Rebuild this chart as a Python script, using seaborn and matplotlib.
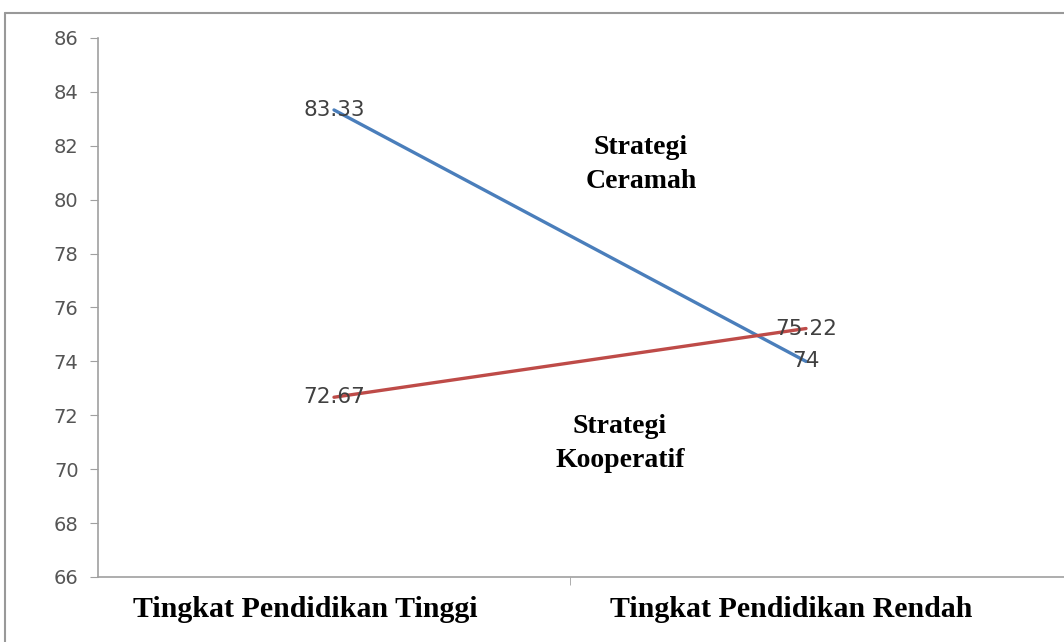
import numpy as np
import pandas as pd
import seaborn as sns
import matplotlib.pyplot as plt
import matplotlib.transforms as mtransforms
from matplotlib.lines import Line2D

# data
categories = ['Tingkat Pendidikan Tinggi', 'Tingkat Pendidikan Rendah']
ceramah = [83.33, 74]
kooperatif = [72.67, 75.22]
ceramah_labels = ['83.33', '74']
kooperatif_labels = ['72.67', '75.22']
y_ticks = [66, 68, 70, 72, 74, 76, 78, 80, 82, 84, 86]

df = pd.DataFrame({
    'pos': list(range(len(categories))) * 2,
    'nilai': ceramah + kooperatif,
    'strategi': ['Ceramah'] * 2 + ['Kooperatif'] * 2,
})

sns.set_style('white')
plt.rcParams['font.family'] = ['DejaVu Sans']

fig = plt.figure(figsize=(10.64, 6.42), dpi=100)
ax = fig.add_axes([98 / 1064, 65 / 642, 1 - 98 / 1064, 539 / 642])

sns.lineplot(data=df, x='pos', y='nilai', hue='strategi',
             palette={'Ceramah': '#4A7EBB', 'Kooperatif': '#BE4B48'},
             linewidth=2.4, legend=False, ax=ax)

# data labels
for i, (v, t) in enumerate(zip(ceramah, ceramah_labels)):
    ax.text(i, v, t, ha='center', va='center', fontsize=15.5, color='#404040')
for i, (v, t) in enumerate(zip(kooperatif, kooperatif_labels)):
    ax.text(i, v, t, ha='center', va='center', fontsize=15.5, color='#404040')

serif = ['Liberation Serif', 'DejaVu Serif']
ax.text(0.65, 81.3, 'Strategi\nCeramah', ha='center', va='center', color='black',
        fontsize=20, fontweight='bold', family=serif, linespacing=1.5)
ax.text(0.606, 70.95, 'Strategi\nKooperatif', ha='center', va='center', color='black',
        fontsize=20, fontweight='bold', family=serif, linespacing=1.5)

ax.set_xlim(-0.5, 1.5 + 22 / 472)
ax.set_ylim(66, 86)
ax.set_yticks(y_ticks)
ax.set_yticklabels([str(t) for t in y_ticks], fontsize=14, color='#555555')
ax.set_xticks(range(len(categories)))
ax.set_xticklabels(categories, fontsize=21.5, fontweight='bold', family=serif, color='black')
ax.set_xticks([0.5], minor=True)
ax.tick_params(axis='x', which='major', length=0, pad=14)
ax.tick_params(axis='x', which='minor', length=6, color='#a0a0a0', direction='out', bottom=True)
ax.tick_params(axis='y', length=6, color='#a0a0a0', direction='out', left=True, pad=8)
for lab, dx in zip(ax.get_xticklabels(), [-0.29, -0.15]):
    shift = mtransforms.ScaledTranslation(dx, 0, fig.dpi_scale_trans)
    lab.set_transform(lab.get_transform() + shift)

ax.set_xlabel('')
ax.set_ylabel('')
for s in ['top', 'right']:
    ax.spines[s].set_visible(False)
for s in ['left', 'bottom']:
    ax.spines[s].set_color('#a0a0a0')
    ax.spines[s].set_linewidth(1.2)

# outer chart frame
fig.add_artist(Line2D([5 / 1064, 1], [1 - 13 / 642, 1 - 13 / 642], color='#999999', lw=1.5))
fig.add_artist(Line2D([5 / 1064, 5 / 1064], [0, 1 - 13 / 642], color='#999999', lw=1.5))

fig.savefig('out.png', dpi=100)
